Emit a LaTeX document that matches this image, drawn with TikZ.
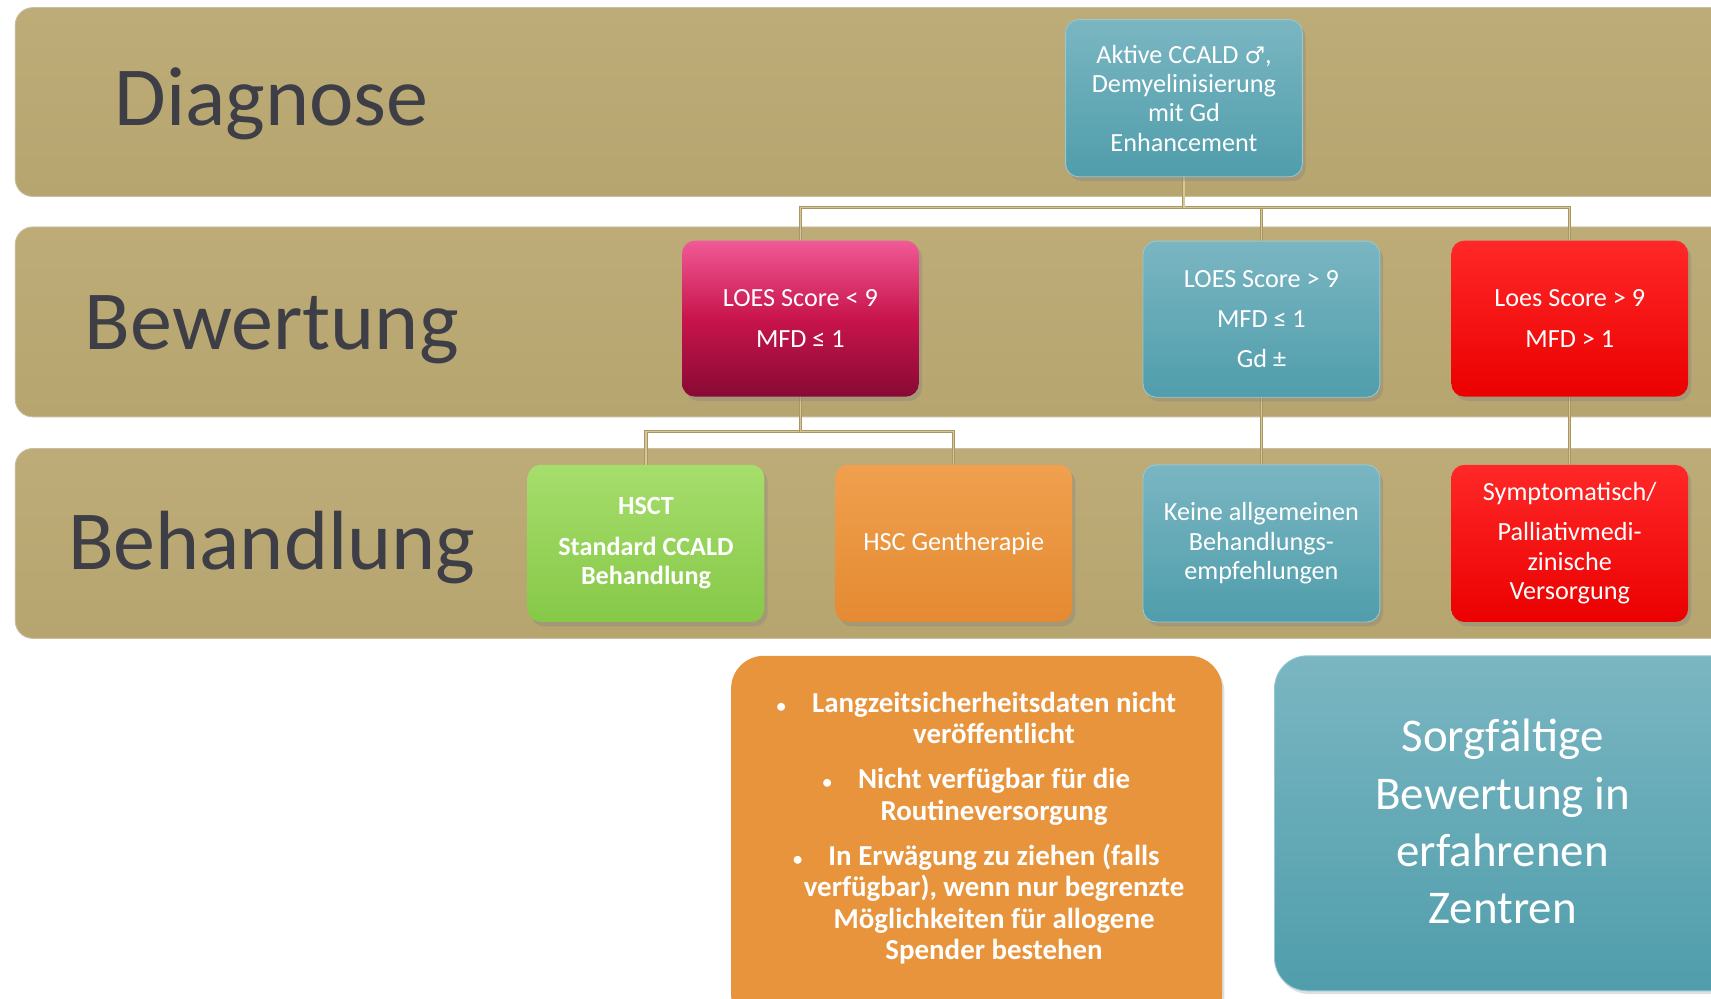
\documentclass[tikz,border=0pt]{standalone}
\usepackage{fontspec}
\setmainfont{Carlito}
\newfontfamily\symfont{DejaVu Sans}
\usetikzlibrary{shadows}
\definecolor{bandtop}{RGB}{190,172,120}
\definecolor{bandbot}{RGB}{183,165,112}
\definecolor{bandedge}{RGB}{200,190,160}
\definecolor{labeltext}{RGB}{62,62,70}
\definecolor{tealtop}{RGB}{122,182,194}
\definecolor{tealbot}{RGB}{80,157,171}
\definecolor{tealedge}{RGB}{150,200,210}
\definecolor{crimtop}{RGB}{240,90,150}
\definecolor{crimmid}{RGB}{200,20,76}
\definecolor{crimbot}{RGB}{136,10,52}
\definecolor{redtop}{RGB}{255,40,40}
\definecolor{redbot}{RGB}{235,0,0}
\definecolor{greentop}{RGB}{166,222,108}
\definecolor{greenbot}{RGB}{134,200,72}
\definecolor{orangetop}{RGB}{240,160,78}
\definecolor{orangebot}{RGB}{228,138,50}
\definecolor{notesorange}{RGB}{232,148,60}
\definecolor{connedge}{RGB}{170,150,96}
\definecolor{conninner}{RGB}{214,200,156}
\newcommand{\bul}{\llap{{\fontsize{17}{17}\selectfont •}\hspace{24pt}}}
\begin{document}
\begin{tikzpicture}[x=1pt,y=-1pt,
  bandbox/.style={rounded corners=16pt, top color=bandtop, bottom color=bandbot, draw=bandedge, line width=0.8pt},
  lbl/.style={font=\fontsize{77}{80}\selectfont, text=labeltext, anchor=base},
  box/.style={rounded corners=12pt, minimum width=217pt, minimum height=143pt, align=center, text=white,
    font=\fontsize{24}{27}\selectfont, inner sep=0pt,
    drop shadow={opacity=0.35, shadow xshift=3pt, shadow yshift=-4pt}},
  tealbox/.style={box, top color=tealtop, bottom color=tealbot, draw=tealedge, line width=0.8pt},
  crimbox/.style={box, top color=crimtop, bottom color=crimbot, middle color=crimmid},
  redbox/.style={box, top color=redtop, bottom color=redbot},
  greenbox/.style={box, top color=greentop, bottom color=greenbot, font=\bfseries\fontsize{24}{27}\selectfont},
  orangebox/.style={box, top color=orangetop, bottom color=orangebot},
  anchorbox/.style={minimum width=217pt, minimum height=143pt, inner sep=0pt},
  conn/.style={draw=connedge, double=conninner, line width=0.8pt, double distance=1.2pt}
]
\useasboundingbox (0,0) rectangle (1568,915);
\fill[white] (0,0) rectangle (1568,915);

% bands
\draw[bandbox] (14,7) rectangle (1590,180);
\draw[bandbox] (14,208) rectangle (1590,382);
\draw[bandbox] (14,411) rectangle (1590,585);

\node[lbl] (tdiag) at (249,115) {Diagnose};
\node[lbl] (tbew) at (249,320) {Bewertung};
\node[lbl] (tbeh) at (249,522) {Behandlung};

% positions
\coordinate (pakt) at (1085,90);
\coordinate (pl1) at (733.5,292);
\coordinate (pl2) at (1156,292.5);
\coordinate (pl3) at (1438.5,292);
\coordinate (ph1) at (592,498);
\coordinate (ph2) at (874,498);
\coordinate (ph3) at (1156,498);
\coordinate (ph4) at (1438.5,498);

% anchors for connectors
\path (pakt) node[anchorbox, minimum height=144pt] (akt) {};
\path (pl1) node[anchorbox] (l1) {};
\path (pl2) node[anchorbox] (l2) {};
\path (pl3) node[anchorbox] (l3) {};
\path (ph1) node[anchorbox, minimum height=144pt] (h1) {};
\path (ph2) node[anchorbox, minimum height=144pt] (h2) {};
\path (ph3) node[anchorbox, minimum height=144pt] (h3) {};
\path (ph4) node[anchorbox, minimum height=144pt] (h4) {};

% connectors
\draw[conn] (akt.south) -- ++(0,28) -| (l1.north);
\draw[conn] (akt.south) -- ++(0,28) -| (l2.north);
\draw[conn] (akt.south) -- ++(0,28) -| (l3.north);
\draw[conn] (l1.south) -- ++(0,32) -| (h1.north);
\draw[conn] (l1.south) -- ++(0,32) -| (h2.north);
\draw[conn] (l2.south) -- (h3.north);
\draw[conn] (l3.south) -- (h4.north);

% boxes
\node[tealbox, minimum height=144pt] (aktbox) at (pakt) {Aktive CCALD {\symfont\fontsize{21}{27}\selectfont ♂},\\Demyelinisierung\\mit Gd\\Enhancement};
\node[crimbox] (l1box) at (pl1) {LOES Score < 9\\[10pt]MFD ≤ 1};
\node[tealbox] (l2box) at (pl2) {LOES Score > 9\\[9.5pt]MFD ≤ 1\\[9.5pt]Gd ±};
\node[redbox] (l3box) at (pl3) {Loes Score > 9\\[10pt]MFD > 1};
\node[greenbox, minimum height=144pt] (h1box) at (ph1) {HSCT\\[10pt]Standard CCALD\\Behandlung};
\node[orangebox, minimum height=144pt] (h2box) at (ph2) {HSC Gentherapie};
\node[tealbox, minimum height=144pt] (h3box) at (ph3) {Keine allgemeinen\\Behandlungs-\\empfehlungen};
\node[redbox, minimum height=144pt] (h4box) at (ph4) {Symptomatisch/\\[10pt]Palliativmedi-\\zinische\\Versorgung};

% bottom notes
\node[fill=notesorange, rounded corners=30pt, minimum width=450pt, minimum height=340pt, inner sep=0pt,
  drop shadow={opacity=0.25, shadow xshift=2pt, shadow yshift=-3pt}] (notes) at (895,771) {};
\node[text=white, align=center, font=\bfseries\fontsize{26.5}{29}\selectfont, inner sep=0pt] (notestext) at (911,759)
  {\bul Langzeitsicherheitsdaten nicht\\veröffentlicht\\[12pt]\bul Nicht verfügbar für die\\Routineversorgung\\[12pt]\bul In Erwägung zu ziehen (falls\\verfügbar), wenn nur begrenzte\\Möglichkeiten für allogene\\Spender bestehen};

\node[top color=tealtop, bottom color=tealbot, draw=tealedge, line width=0.8pt, rounded corners=30pt,
  minimum width=440pt, minimum height=307pt, inner sep=0pt,
  drop shadow={opacity=0.25, shadow xshift=2pt, shadow yshift=-3pt}] (eval) at (1388,754.5) {};
\node[text=white, align=center, font=\fontsize{43}{52.5}\selectfont, inner sep=0pt] (evaltext) at (1377,753)
  {Sorgfältige\\Bewertung in\\erfahrenen\\Zentren};
\end{tikzpicture}
\end{document}
